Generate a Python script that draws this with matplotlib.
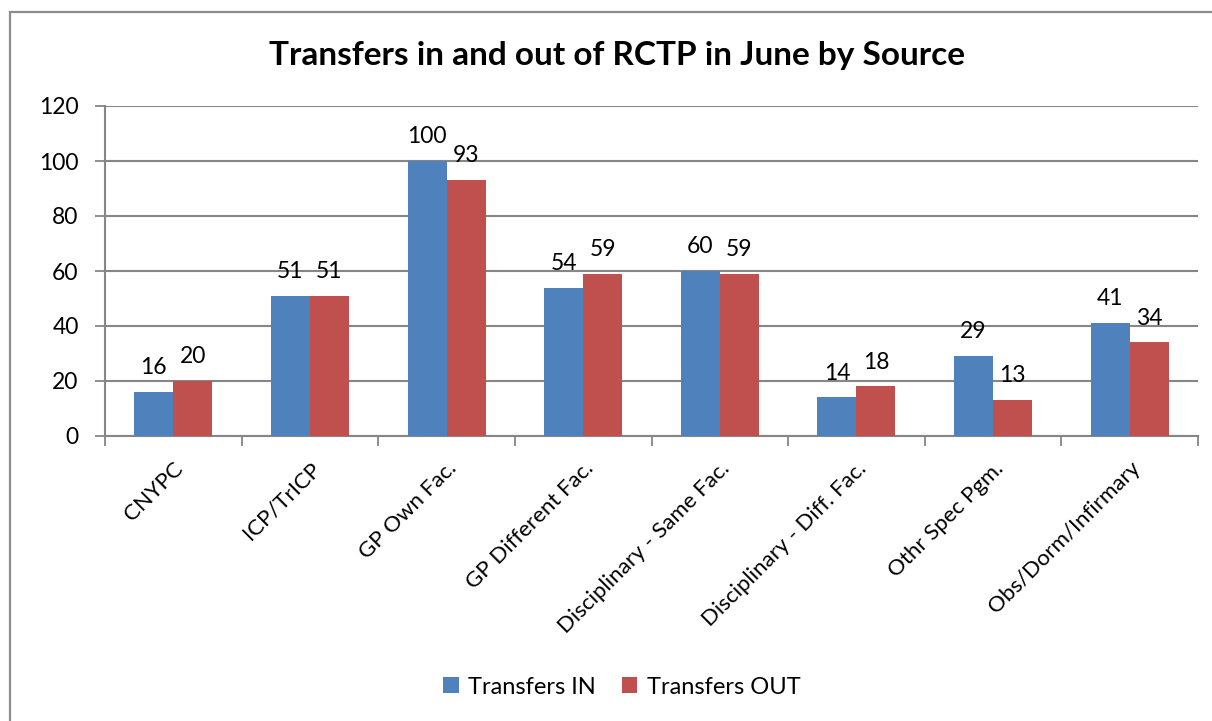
import matplotlib.pyplot as plt
from matplotlib.patches import Rectangle
import numpy as np

categories = ['CNYPC', 'ICP/TrICP', 'GP Own Fac.', 'GP Different Fac.',
              'Disciplinary - Same Fac.', 'Disciplinary - Diff. Fac.',
              'Othr Spec Pgm.', 'Obs/Dorm/Infirmary']
transfers_in = [16, 51, 100, 54, 60, 14, 29, 41]
transfers_out = [20, 51, 93, 59, 59, 18, 13, 34]

plt.rcParams['font.family'] = ['Lato', 'DejaVu Sans']
grid_col = '#868686'

fig = plt.figure(figsize=(12.12, 7.21), dpi=100)
# outer chart border (cut off at the right and bottom)
fig.patches.append(Rectangle((10 / 1212, -0.1), 1.2, 1 - 12 / 721 + 0.1,
                             transform=fig.transFigure, fill=False,
                             edgecolor='#8c8c8c', linewidth=1.6))

ax = fig.add_axes([105 / 1212, 1 - 436 / 721, 1093 / 1212, 330 / 721])

x = np.arange(len(categories))
w = 0.285
b1 = ax.bar(x - w / 2, transfers_in, w, color='#4F81BD', label='Transfers IN', zorder=3)
b2 = ax.bar(x + w / 2, transfers_out, w, color='#C0504D', label='Transfers OUT', zorder=3)
ax.bar_label(b1, fontsize=16.5, padding=10)
ax.bar_label(b2, fontsize=16.5, padding=10)

ax.set_xlim(-0.5, len(categories) - 0.5)
ax.set_ylim(0, 120)
ax.set_yticks(range(0, 121, 20))
ax.tick_params(axis='y', labelsize=16.5, length=7, color=grid_col, width=1.3, pad=12)
ax.yaxis.grid(True, color=grid_col, linewidth=1.5, zorder=0)

# category boundary ticks on x axis
ax.set_xticks(np.arange(len(categories) + 1) - 0.5, minor=False)
ax.set_xticklabels([])
ax.tick_params(axis='x', length=7, color=grid_col, width=1.3)
ax.set_xticks(x, minor=True)
ax.set_xticklabels(categories, minor=True, rotation=45, ha='right',
                   rotation_mode='anchor', fontsize=16)
ax.tick_params(axis='x', which='minor', length=0, pad=16)

for s in ['top', 'right']:
    ax.spines[s].set_visible(False)
for s in ['left', 'bottom']:
    ax.spines[s].set_color(grid_col)
    ax.spines[s].set_linewidth(1.5)

fig.text(0.509, 1 - 55 / 721, 'Transfers in and out of RCTP in June by Source',
         ha='center', va='center', fontsize=24, fontweight='bold')

fig.legend(handles=[b1, b2], loc='center', bbox_to_anchor=(0.513, 1 - 687 / 721),
           ncol=2, frameon=False, fontsize=17, handlelength=0.65, handleheight=0.65,
           columnspacing=1.1, handletextpad=0.4)

fig.savefig('out.png', dpi=100)
